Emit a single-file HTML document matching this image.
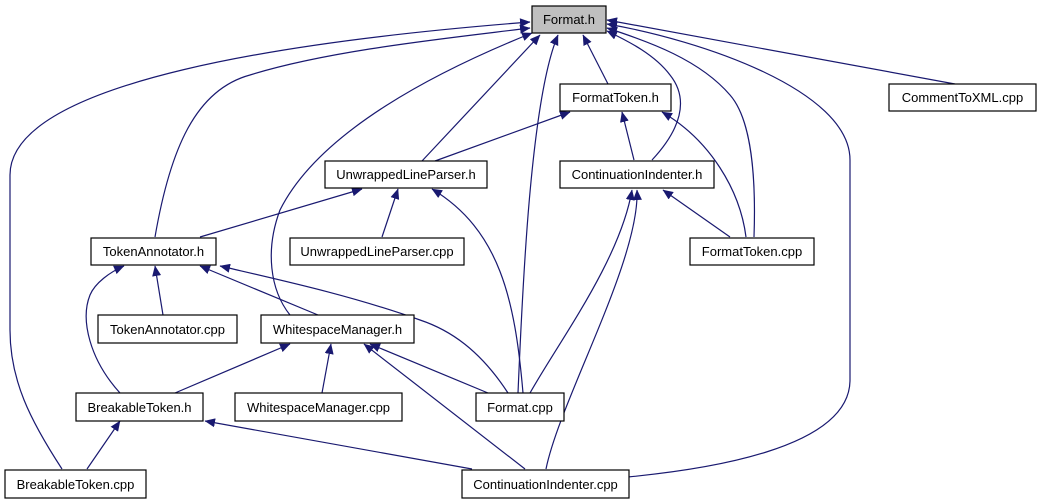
<!DOCTYPE html>
<html><head><meta charset="utf-8"><style>
html,body{margin:0;padding:0;background:#fff;}
svg{display:block;}
text{font-family:"Liberation Sans",Arial,sans-serif;font-size:13px;fill:#000;}
</style></head><body>
<svg width="1041" height="504" viewBox="0 0 1041 504" xmlns="http://www.w3.org/2000/svg">
<defs>
<marker id="a" markerWidth="11" markerHeight="9" refX="10" refY="4.5" orient="auto" markerUnits="userSpaceOnUse">
<path d="M0,0 L10.5,4.5 L0,9 z" fill="#191970"/>
</marker>
</defs>
<g fill="none" stroke="#191970" stroke-width="1.2" marker-end="url(#a)">
<path d="M62,469 C30,420 10,380 10,330 L10,175 C10,80 300,40 530,22"/>
<path d="M155,237 C170,150 195,90 250,75 C330,50 450,38 530,28"/>
<path d="M290,315 C270,290 265,250 280,210 C320,130 440,70 532,33"/>
<path d="M422,161 L540,35"/>
<path d="M518,393 C522,300 530,100 558,35"/>
<path d="M608,84 L583,35"/>
<path d="M652,160 C680,130 690,100 670,75 C655,55 630,42 607,31"/>
<path d="M754,237 C756,180 752,120 730,95 C700,60 650,42 607,28"/>
<path d="M628,477 C700,470 850,450 850,380 L850,160 C850,90 700,40 607,24"/>
<path d="M955,84 L607,20"/>
<path d="M435,161 L570,112"/>
<path d="M634,160 L622,112"/>
<path d="M746,237 C740,190 710,140 662,112"/>
<path d="M200,237 L362,189"/>
<path d="M382,237 L398,189"/>
<path d="M523,393 C515,300 500,230 432,189"/>
<path d="M530,393 C560,340 620,260 632,190"/>
<path d="M546,469 C560,400 640,260 637,190"/>
<path d="M730,237 L663,190"/>
<path d="M120,393 C90,360 80,320 90,295 C95,283 110,272 124,266"/>
<path d="M163,315 L155,266"/>
<path d="M318,315 L200,266"/>
<path d="M508,393 C480,350 450,330 420,320 C350,295 280,280 220,266"/>
<path d="M175,393 L290,344"/>
<path d="M322,393 L331,344"/>
<path d="M488,393 L370,344"/>
<path d="M525,469 L364,344"/>
<path d="M87,469 L120,421"/>
<path d="M472,469 L205,421"/>
</g>
<g stroke="#000" stroke-width="1.2" fill="#fff">
<rect x="532" y="6" width="74" height="27" fill="#bfbfbf"/>
<rect x="560" y="84" width="111" height="27"/>
<rect x="889" y="84" width="147" height="27"/>
<rect x="325" y="161" width="162" height="27"/>
<rect x="560" y="161" width="154" height="27"/>
<rect x="91" y="238" width="125" height="27"/>
<rect x="290" y="238" width="174" height="27"/>
<rect x="690" y="238" width="124" height="27"/>
<rect x="98" y="315" width="139" height="28"/>
<rect x="261" y="315" width="153" height="28"/>
<rect x="76" y="393" width="127" height="28"/>
<rect x="235" y="393" width="167" height="28"/>
<rect x="476" y="393" width="88" height="28"/>
<rect x="5" y="470" width="141" height="28"/>
<rect x="462" y="470" width="167" height="28"/>
</g>
<g text-anchor="middle">
<text x="569" y="24">Format.h</text>
<text x="615.5" y="102">FormatToken.h</text>
<text x="962.5" y="102">CommentToXML.cpp</text>
<text x="406" y="179">UnwrappedLineParser.h</text>
<text x="637" y="179">ContinuationIndenter.h</text>
<text x="153.5" y="256">TokenAnnotator.h</text>
<text x="377" y="256">UnwrappedLineParser.cpp</text>
<text x="752" y="256">FormatToken.cpp</text>
<text x="167.5" y="334">TokenAnnotator.cpp</text>
<text x="337.5" y="334">WhitespaceManager.h</text>
<text x="139.5" y="412">BreakableToken.h</text>
<text x="318.5" y="412">WhitespaceManager.cpp</text>
<text x="520" y="412">Format.cpp</text>
<text x="75.5" y="489">BreakableToken.cpp</text>
<text x="545.5" y="489">ContinuationIndenter.cpp</text>
</g>
</svg>
</body></html>
